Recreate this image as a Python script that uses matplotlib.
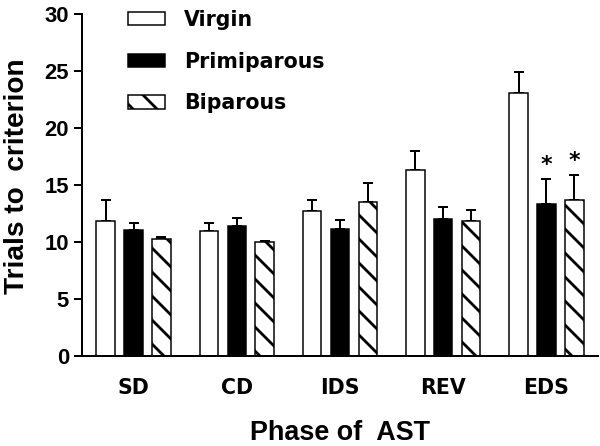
import matplotlib
matplotlib.use("Agg")
import matplotlib.pyplot as plt
import numpy as np

plt.rcParams['font.family'] = ['Liberation Sans', 'DejaVu Sans']
plt.rcParams['font.weight'] = 'bold'
plt.rcParams['hatch.linewidth'] = 2.8

phases = ["SD", "CD", "IDS", "REV", "EDS"]
series = ["Virgin", "Primiparous", "Biparous"]
virgin = [11.85, 11.0, 12.7, 16.3, 23.1]
virgin_err = [1.85, 0.7, 1.0, 1.7, 1.8]
primi = [11.05, 11.4, 11.15, 12.0, 13.3]
primi_err = [0.65, 0.7, 0.75, 1.1, 2.2]
bipar = [10.25, 10.0, 13.5, 11.8, 13.7]
bipar_err = [0.2, 0.05, 1.65, 1.0, 2.2]
star_groups = [4]  # EDS: primiparous and biparous significant

WIDE = ['DejaVu Sans']

fig = plt.figure(figsize=(600/72, 446/72), dpi=72)
ax = fig.add_axes([82/600, 1-356/446, 516/600, 342/446])

x = np.arange(len(phases))
w = 0.18
off = 0.27
styles = [dict(facecolor='white', hatch=None),
          dict(facecolor='black', hatch=None),
          dict(facecolor='white', hatch='\\')]
data = [(virgin, virgin_err), (primi, primi_err), (bipar, bipar_err)]
handles = []
for i, ((vals, errs), st, name) in enumerate(zip(data, styles, series)):
    pos = x + (i - 1) * off
    b = ax.bar(pos, vals, width=w, facecolor=st['facecolor'], edgecolor='black',
               linewidth=1.5, hatch=st['hatch'], label=name, zorder=2)
    ax.errorbar(pos, vals, yerr=[np.zeros(len(vals)), errs], fmt='none',
                ecolor='black', elinewidth=2, capsize=5, capthick=2, zorder=1)
    handles.append(b)
    if i > 0:
        for g in star_groups:
            ax.text(pos[g], vals[g] + errs[g] + 0.35, '*', ha='center', va='bottom',
                    fontsize=22, fontweight='bold', family=WIDE)

ax.set_xlim(-0.5, 4.5)
ax.set_ylim(0, 30)
ax.set_yticks([0, 5, 10, 15, 20, 25, 30])
ax.set_xticks(x)
ax.set_xticklabels(phases, family=WIDE)
ax.tick_params(axis='y', direction='out', length=8, width=2, labelsize=22, pad=5)
ax.tick_params(axis='x', length=0, labelsize=20.5, pad=22)
for s in ['top', 'right']:
    ax.spines[s].set_visible(False)
ax.spines['left'].set_linewidth(2)
ax.spines['bottom'].set_linewidth(2)

ax.set_xlabel("Phase of  AST", fontsize=27, fontweight='bold', labelpad=22)
ax.set_ylabel("Trials to  criterion", fontsize=28, fontweight='bold')
ax.yaxis.set_label_coords(-0.100, 0.525)

leg = fig.legend(handles=handles, labels=series, loc='upper left',
                 bbox_to_anchor=(128/600, 1-10/446), frameon=False,
                 prop=dict(family=WIDE, size=20.5, weight='bold'),
                 handlelength=1.8, handleheight=0.63, labelspacing=1.05,
                 handletextpad=0.95, borderpad=0, borderaxespad=0)

fig.savefig("out.png", dpi=72)
